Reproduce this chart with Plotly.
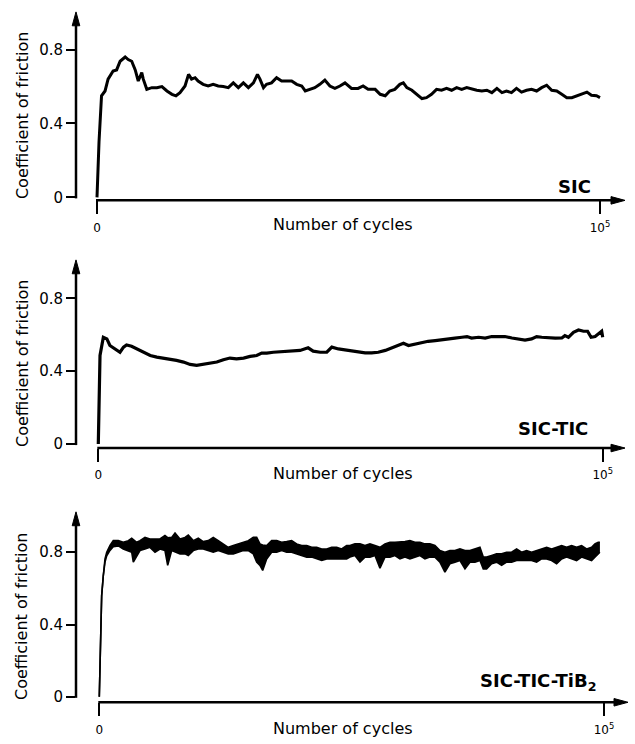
import plotly.graph_objects as go

# ---------------- data ----------------
SIC_CYCLES = [0, 400, 900, 1600, 2200, 3200, 3900, 4600, 5600, 6200,
              6900, 7600, 8200, 8900, 9200, 9900, 10900, 11900, 12900, 13900,
              14900, 15700, 16500, 17500, 18200, 18800, 19500, 20100, 21100, 22100,
              23100, 24100, 25100, 26100, 27100, 28100, 29100, 30100, 31100, 31900,
              32400, 33100, 33700, 34700, 35700, 36700, 37700, 38700, 39700, 40700,
              41400, 42300, 43300, 44300, 45300, 46300, 47300, 48300, 49300, 50600,
              51900, 52900, 53900, 55300, 56300, 57300, 58200, 59200, 60200, 60900,
              61600, 62600, 63600, 64600, 65500, 66500, 67500, 68500, 69500, 70500,
              71500, 72500, 73500, 74500, 75500, 76500, 77500, 78500, 79500, 80500,
              81400, 82400, 83400, 84400, 85400, 86400, 87400, 88400, 89400, 90400,
              91400, 92400, 93400, 94400, 95400, 96400, 97400, 98300, 99300, 100000]
SIC_MU = [0, 0.30, 0.55, 0.576, 0.64, 0.684, 0.69, 0.737, 0.76, 0.746,
          0.737, 0.69, 0.63, 0.675, 0.64, 0.585, 0.594, 0.594, 0.60, 0.576,
          0.558, 0.55, 0.567, 0.603, 0.666, 0.64, 0.648, 0.63, 0.612, 0.603,
          0.612, 0.603, 0.60, 0.594, 0.62, 0.594, 0.62, 0.594, 0.62, 0.666,
          0.64, 0.594, 0.612, 0.62, 0.648, 0.63, 0.63, 0.63, 0.612, 0.603,
          0.576, 0.585, 0.594, 0.612, 0.635, 0.603, 0.59, 0.603, 0.62, 0.59,
          0.59, 0.603, 0.585, 0.585, 0.558, 0.55, 0.576, 0.585, 0.612, 0.62,
          0.594, 0.58, 0.558, 0.535, 0.54, 0.558, 0.585, 0.58, 0.59, 0.58,
          0.594, 0.585, 0.594, 0.585, 0.58, 0.576, 0.58, 0.567, 0.59, 0.567,
          0.576, 0.567, 0.59, 0.57, 0.58, 0.585, 0.576, 0.594, 0.607, 0.58,
          0.576, 0.558, 0.54, 0.54, 0.55, 0.558, 0.57, 0.553, 0.55, 0.54]

TIC_CYCLES = [0, 200, 340, 1000, 1700, 2300, 3300, 4300, 5000, 5600,
              6600, 7600, 8900, 10300, 11600, 12900, 14200, 15500, 16900, 18200,
              19500, 20800, 22200, 23500, 24800, 26100, 27400, 28800, 30100, 31400,
              32400, 33400, 34700, 36000, 37400, 38700, 40000, 41600, 42600, 44000,
              45300, 46300, 47600, 48900, 50300, 51600, 52900, 54200, 55500, 56900,
              58200, 59500, 60500, 61500, 62800, 64100, 65400, 66800, 68100, 69400,
              70700, 72100, 73100, 74000, 75400, 76700, 78000, 79300, 80600, 82000,
              83300, 84600, 85900, 86900, 87900, 89200, 90600, 91900, 92500, 93200,
              94200, 95200, 96200, 97000, 97700, 98500, 99000, 99800, 100000]
TIC_MU = [0, 0.30, 0.486, 0.586, 0.577, 0.541, 0.522, 0.504, 0.532, 0.544,
          0.537, 0.522, 0.504, 0.486, 0.477, 0.472, 0.468, 0.459, 0.45, 0.437,
          0.432, 0.437, 0.441, 0.45, 0.463, 0.472, 0.468, 0.472, 0.481, 0.486,
          0.499, 0.499, 0.504, 0.506, 0.51, 0.51, 0.514, 0.528, 0.51, 0.504,
          0.504, 0.532, 0.522, 0.517, 0.51, 0.504, 0.501, 0.501, 0.504, 0.514,
          0.528, 0.541, 0.553, 0.541, 0.55, 0.559, 0.564, 0.568, 0.571, 0.577,
          0.581, 0.586, 0.59, 0.582, 0.586, 0.582, 0.59, 0.59, 0.59, 0.582,
          0.577, 0.571, 0.577, 0.59, 0.586, 0.582, 0.581, 0.582, 0.595, 0.586,
          0.613, 0.626, 0.619, 0.619, 0.586, 0.59, 0.601, 0.619, 0.586]

TIB_CYCLES = [0, 140, 340, 470, 790, 1130, 1470, 2120, 2770, 3760,
              4750, 5750, 6420, 6740, 7410, 8060, 9050, 10040, 11040, 12020,
              13010, 13550, 14340, 15000, 15990, 16980, 17630, 18620, 19610, 20600,
              21590, 22580, 23570, 24560, 25550, 26550, 27540, 28530, 29520, 30510,
              31180, 31830, 32370, 33160, 34150, 35140, 36130, 37120, 38110, 39100,
              40100, 41090, 42080, 43070, 44060, 45050, 46040, 47030, 48020, 49010,
              49660, 50650, 51650, 52640, 53630, 54620, 55610, 56600, 57590, 58580,
              59570, 60560, 61550, 62540, 63530, 64520, 65510, 66500, 67490, 68480,
              69470, 70460, 71460, 72450, 73440, 74430, 75420, 76080, 76740, 77730,
              78720, 79710, 80700, 81690, 82680, 83670, 84660, 85650, 86640, 87640,
              88630, 89620, 90610, 91600, 92590, 93580, 94570, 95560, 96550, 97540,
              98200, 98850, 99190]
TIB_MU_HIGH = [0, 0.196, 0.38, 0.56, 0.67, 0.763, 0.80, 0.837, 0.864, 0.864,
               0.855, 0.864, 0.877, 0.87, 0.855, 0.864, 0.882, 0.873, 0.873, 0.873,
               0.892, 0.88, 0.882, 0.906, 0.873, 0.882, 0.895, 0.864, 0.877, 0.859,
               0.864, 0.882, 0.864, 0.846, 0.827, 0.837, 0.846, 0.855, 0.864, 0.882,
               0.882, 0.846, 0.84, 0.837, 0.864, 0.864, 0.855, 0.859, 0.864, 0.846,
               0.837, 0.837, 0.827, 0.827, 0.818, 0.818, 0.827, 0.827, 0.818, 0.837,
               0.837, 0.846, 0.846, 0.837, 0.846, 0.837, 0.827, 0.846, 0.855, 0.855,
               0.855, 0.859, 0.864, 0.855, 0.855, 0.846, 0.846, 0.837, 0.809, 0.80,
               0.809, 0.809, 0.818, 0.809, 0.809, 0.818, 0.827, 0.773, 0.773, 0.782,
               0.791, 0.791, 0.80, 0.80, 0.818, 0.80, 0.809, 0.80, 0.809, 0.818,
               0.827, 0.818, 0.827, 0.837, 0.827, 0.837, 0.827, 0.837, 0.818, 0.827,
               0.846, 0.855, 0.855]
TIB_MU_LOW = [0, 0.196, 0.38, 0.56, 0.67, 0.745, 0.78, 0.81, 0.83, 0.835,
              0.818, 0.809, 0.80, 0.745, 0.782, 0.809, 0.818, 0.827, 0.80, 0.818,
              0.809, 0.727, 0.809, 0.80, 0.791, 0.791, 0.782, 0.809, 0.818, 0.818,
              0.809, 0.80, 0.809, 0.80, 0.791, 0.791, 0.80, 0.809, 0.809, 0.791,
              0.745, 0.727, 0.699, 0.763, 0.80, 0.80, 0.809, 0.80, 0.80, 0.791,
              0.782, 0.773, 0.773, 0.763, 0.754, 0.763, 0.763, 0.763, 0.763, 0.763,
              0.773, 0.782, 0.745, 0.773, 0.773, 0.782, 0.712, 0.773, 0.773, 0.782,
              0.763, 0.773, 0.763, 0.773, 0.782, 0.763, 0.773, 0.773, 0.745, 0.69,
              0.736, 0.745, 0.754, 0.708, 0.745, 0.745, 0.754, 0.708, 0.708, 0.736,
              0.745, 0.727, 0.745, 0.745, 0.754, 0.754, 0.754, 0.754, 0.745, 0.763,
              0.763, 0.754, 0.736, 0.763, 0.773, 0.763, 0.754, 0.773, 0.763, 0.754,
              0.773, 0.791, 0.80]

Y_TICKS = [0, 0.4, 0.8]
Y_TICK_TEXT = ["0", "0.4", "0.8"]
X_TICKS = [0, 100000]
X_TICK_TEXT = ["0", "10<sup>5</sup>"]
PANEL_LABELS = ["<b>SIC</b>", "<b>SIC-TIC</b>", "<b>SIC-TIC-TiB<sub>2</sub></b>"]
Y_TITLE = "Coefficient of friction"
X_TITLE = "Number of cycles"

# ---------------- layout geometry (pixels) ----------------
W, H = 635, 744
FONT = "DejaVu Sans"


def fx(x):
    return x / W


def fy(y):
    return 1 - y / H


# yx: y-axis x; x0/x1: pixel of 0 and 1e5; xend: arrow tip; xline: x-axis y;
# y0/y08: pixel of 0 and 0.8; ytop: arrow tip
GEOM = [
    dict(yx=76, x0=97, x1=600, xend=625, xline=202, y0=199, y08=50, ytop=12,
         lab_x=593, lab_y=188, ytitle_y=117, xtitle_y=226),
    dict(yx=76, x0=98.3, x1=602.7, xend=625, xline=451.7, y0=447.7, y08=300.7, ytop=262,
         lab_x=590, lab_y=431.7, ytitle_y=367, xtitle_y=477),
    dict(yx=76, x0=99.3, x1=604, xend=628, xline=708, y0=702.5, y08=556.7, ytop=516,
         lab_x=598, lab_y=688, ytitle_y=622, xtitle_y=734),
]

fig = go.Figure()
layout = dict(width=W, height=H, margin=dict(l=0, r=0, t=0, b=0),
              paper_bgcolor="white", plot_bgcolor="white", showlegend=False)
shapes, annotations = [], []
AXW = 2.5

for i, g in enumerate(GEOM):
    n = "" if i == 0 else str(i + 1)
    sx = (g["x1"] - g["x0"]) / 100000.0
    sy = (g["y0"] - g["y08"]) / 0.8
    layout["xaxis" + n] = dict(
        domain=[fx(g["yx"]), fx(g["xend"])],
        range=[-(g["x0"] - g["yx"]) / sx, (g["xend"] - g["x0"]) / sx],
        anchor="y" + n, showgrid=False, zeroline=False, showline=False,
        tickmode="array", tickvals=X_TICKS, ticktext=X_TICK_TEXT,
        ticks="outside", ticklen=13, tickwidth=2, tickcolor="black",
        ticklabelstandoff=3,
        tickfont=dict(family=FONT, size=12, color="black"), fixedrange=True)
    layout["yaxis" + n] = dict(
        domain=[fy(g["xline"]), fy(g["ytop"])],
        range=[-(g["xline"] - g["y0"]) / sy, (g["y0"] - g["ytop"]) / sy],
        anchor="x" + n, showgrid=False, zeroline=False, showline=False,
        tickmode="array", tickvals=Y_TICKS, ticktext=Y_TICK_TEXT,
        ticks="outside", ticklen=9, tickwidth=2, tickcolor="black",
        tickfont=dict(family=FONT, size=15, color="black"), fixedrange=True)

    # axis lines
    shapes.append(dict(type="line", xref="paper", yref="paper",
                       x0=fx(g["yx"]), x1=fx(g["yx"]),
                       y0=fy(g["y0"] + 1), y1=fy(g["ytop"] + 8),
                       line=dict(color="black", width=AXW)))
    shapes.append(dict(type="line", xref="paper", yref="paper",
                       x0=fx(g["x0"] - 1), x1=fx(g["xend"] - 8),
                       y0=fy(g["xline"]), y1=fy(g["xline"]),
                       line=dict(color="black", width=AXW)))
    # arrow heads
    up = "M {} {} L {} {} L {} {} Z".format(
        fx(g["yx"]), fy(g["ytop"]), fx(g["yx"] - 3.8), fy(g["ytop"] + 14),
        fx(g["yx"] + 3.8), fy(g["ytop"] + 14))
    right = "M {} {} L {} {} L {} {} Z".format(
        fx(g["xend"]), fy(g["xline"]), fx(g["xend"] - 14), fy(g["xline"] - 3.8),
        fx(g["xend"] - 14), fy(g["xline"] + 3.8))
    for p in (up, right):
        shapes.append(dict(type="path", xref="paper", yref="paper", path=p,
                           fillcolor="black", line=dict(color="black", width=1)))

    annotations.append(dict(xref="paper", yref="paper", x=fx(22), y=fy(g["ytitle_y"]),
                            text=Y_TITLE, textangle=-90, showarrow=False,
                            xanchor="center", yanchor="middle",
                            font=dict(family=FONT, size=16, color="black")))
    annotations.append(dict(xref="paper", yref="paper", x=fx(342.5), y=fy(g["xtitle_y"]),
                            text=X_TITLE, showarrow=False,
                            xanchor="center", yanchor="middle",
                            font=dict(family=FONT, size=16, color="black")))
    annotations.append(dict(xref="paper", yref="paper", x=fx(g["lab_x"]), y=fy(g["lab_y"]),
                            text=PANEL_LABELS[i], showarrow=False,
                            xanchor="right", yanchor="middle",
                            font=dict(family=FONT, size=18, color="black")))

fig.add_trace(go.Scatter(x=SIC_CYCLES, y=SIC_MU, mode="lines", xaxis="x", yaxis="y",
                         line=dict(color="black", width=3), hoverinfo="skip"))
fig.add_trace(go.Scatter(x=TIC_CYCLES, y=TIC_MU, mode="lines", xaxis="x2", yaxis="y2",
                         line=dict(color="black", width=3.2), hoverinfo="skip"))
fig.add_trace(go.Scatter(x=TIB_CYCLES, y=TIB_MU_LOW, mode="lines", xaxis="x3", yaxis="y3",
                         line=dict(color="black", width=1.6), hoverinfo="skip"))
fig.add_trace(go.Scatter(x=TIB_CYCLES, y=TIB_MU_HIGH, mode="lines", xaxis="x3", yaxis="y3",
                         fill="tonexty", fillcolor="black",
                         line=dict(color="black", width=1.6), hoverinfo="skip"))

layout["shapes"] = shapes
layout["annotations"] = annotations
fig.update_layout(**layout)
fig.write_html("out.html")
